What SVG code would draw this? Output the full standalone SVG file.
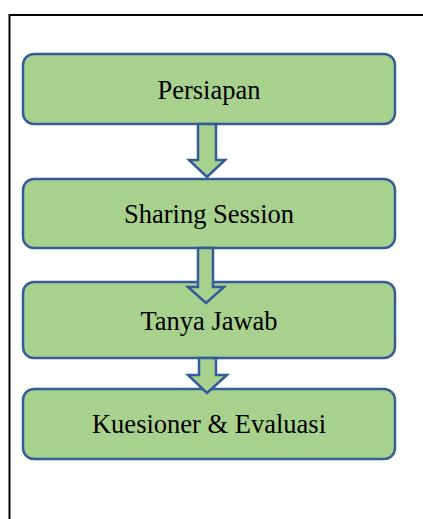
<svg xmlns="http://www.w3.org/2000/svg" width="423" height="519" viewBox="0 0 423 519">
<style>
.box{fill:#A9D18E;stroke:#355C9A;stroke-width:2.5}
.arr{fill:#A9D18E;stroke:#355C9A;stroke-width:2.5;stroke-linejoin:miter}
.lbl{font-family:"Liberation Serif","Times New Roman",serif;font-size:26.5px;fill:#000;text-anchor:middle}
.frame{fill:none;stroke:#000;stroke-width:2}
</style>
<rect width="423" height="519" fill="#fff"/>
<path class="frame" d="M9.5,519 V15 H423"/>
<g id="node1"><rect class="box" x="23" y="54" width="372" height="70" rx="11"/><text class="lbl" x="209" y="99">Persiapan</text></g>
<g id="node2"><rect class="box" x="23" y="179" width="372" height="69" rx="11"/><text class="lbl" x="209" y="223">Sharing Session</text></g>
<g id="node3"><rect class="box" x="23" y="282" width="372" height="76" rx="11"/><text class="lbl" x="209" y="330">Tanya Jawab</text></g>
<g id="node4"><rect class="box" x="23" y="389" width="372" height="70" rx="11"/><text class="lbl" x="209" y="433">Kuesioner &amp; Evaluasi</text></g>
<g id="connectors">
<path class="arr" d="M198,124 H216 V160 H225 L207,177 L189,160 H198 Z"/>
<path class="arr" d="M198,248 H213 V287 H224 L206,303 L188,287 H198 Z"/>
<path class="arr" d="M199,358 H216 V375 H227 L207,393 L188,375 H199 Z"/>
</g>
</svg>
